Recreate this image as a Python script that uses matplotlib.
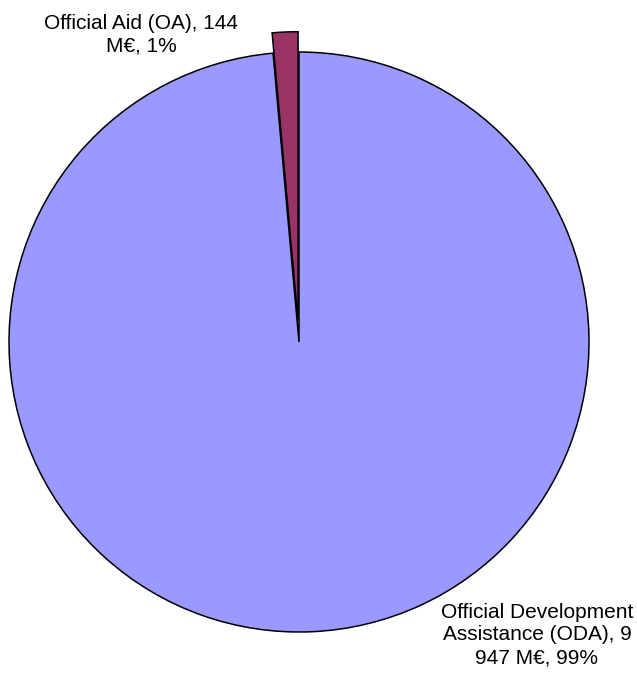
import matplotlib.pyplot as plt

plt.rcParams['font.family'] = ['Liberation Sans', 'DejaVu Sans']

# data
labels = ['Official Development\nAssistance (ODA), 9\n947 M€, 99%',
          'Official Aid (OA), 144\nM€, 1%']
values = [9947, 144]
colors = ['#9999FF', '#993366']
explode = [0, 0.07]

fig = plt.figure(figsize=(6.37, 6.73), dpi=100)
ax = fig.add_axes([0, 0, 1, 1])

ax.pie(values, colors=colors, explode=explode, startangle=90, counterclock=False,
       radius=1, wedgeprops=dict(edgecolor='black', linewidth=1.1))

# pie centre at pixel (299, 342), radius 290 px
ax.set_xlim(-299 / 290, (637 - 299) / 290)
ax.set_ylim((342 - 673) / 290, 342 / 290)
ax.set_aspect('auto')
ax.axis('off')

# labels
ax.text((141 - 299) / 290, (342 - 35) / 290, labels[1], ha='center', va='center',
        fontsize=15, linespacing=1.25)
ax.text((537 - 299) / 290, (342 - 635) / 290, labels[0], ha='center', va='center',
        fontsize=15, linespacing=1.25)

fig.savefig('out.png', dpi=100)
